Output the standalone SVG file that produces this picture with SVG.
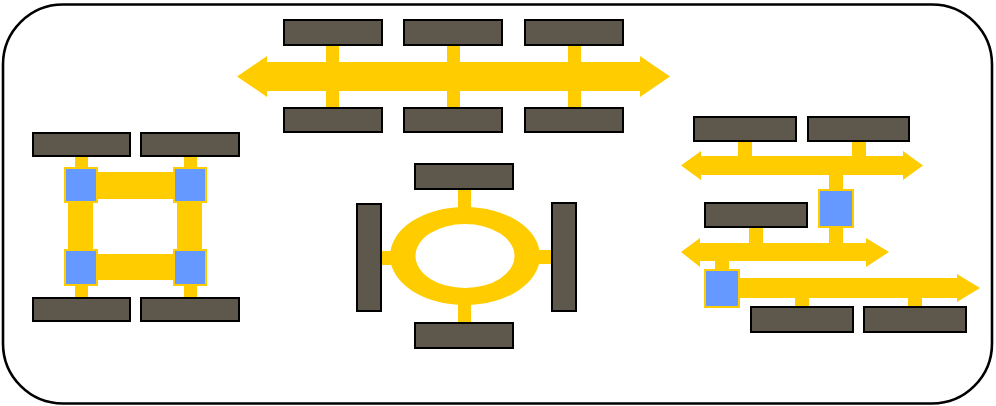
<svg xmlns="http://www.w3.org/2000/svg" width="996" height="406" viewBox="0 0 996 406">
<style>
.n{fill:#5e574b;stroke:#000;stroke-width:2}
.b{fill:#6699ff;stroke:#ffcc00;stroke-width:2}
.y{fill:#ffcc00;stroke:none}
</style>
<rect x="3" y="4.5" width="989" height="399" rx="60" ry="60" fill="#fff" stroke="#000" stroke-width="2.6"/>
<g id="connectors">
  <path class="y" d="M237,76.5 L267,56 L267,62 L640,62 L640,56 L670,76.5 L640,97 L640,91 L267,91 L267,97 Z"/>
  <rect class="y" x="326" y="44" width="13" height="64"/>
  <rect class="y" x="447" y="44" width="13" height="64"/>
  <rect class="y" x="568" y="44" width="13" height="64"/>
  <rect class="y" x="75" y="155" width="13" height="15"/>
  <rect class="y" x="184" y="155" width="13" height="15"/>
  <rect class="y" x="75" y="284" width="13" height="15"/>
  <rect class="y" x="184" y="284" width="13" height="15"/>
  <rect class="y" x="90" y="172" width="90" height="27"/>
  <rect class="y" x="90" y="254" width="90" height="26"/>
  <rect class="y" x="68" y="190" width="25" height="70"/>
  <rect class="y" x="177" y="190" width="25" height="70"/>
  <path class="y" fill-rule="evenodd" d="M390,256 A75,49 0 1 0 540,256 A75,49 0 1 0 390,256 Z M415.5,256 A49.5,32 0 1 0 514.5,256 A49.5,32 0 1 0 415.5,256 Z"/>
  <rect class="y" x="458" y="188" width="13" height="22"/>
  <rect class="y" x="458" y="302" width="13" height="22"/>
  <rect class="y" x="380" y="251" width="14" height="14"/>
  <rect class="y" x="536" y="250" width="16" height="14"/>
  <path class="y" d="M681,165.5 L701,151 L701,156 L903,156 L903,151 L923,165.5 L903,180 L903,175 L701,175 L701,180 Z"/>
  <path class="y" d="M681,252 L700,238 L700,243 L866,243 L866,238 L889,252 L866,267 L866,261 L700,261 L700,267 Z"/>
  <path class="y" d="M730,278 L957,278 L957,274 L980,288 L957,302 L957,298 L730,298 Z"/>
  <rect class="y" x="738" y="140" width="14" height="17"/>
  <rect class="y" x="852" y="140" width="14" height="17"/>
  <rect class="y" x="829" y="174" width="14" height="17"/>
  <rect class="y" x="829" y="226" width="14" height="18"/>
  <rect class="y" x="749" y="226" width="14" height="18"/>
  <rect class="y" x="715" y="260" width="14" height="11"/>
  <rect class="y" x="795" y="296" width="14" height="12"/>
  <rect class="y" x="908" y="296" width="14" height="12"/>
</g>
<g id="top-t1"><rect class="n" x="284" y="20" width="98" height="25"/></g>
<g id="top-t2"><rect class="n" x="404" y="20" width="98" height="25"/></g>
<g id="top-t3"><rect class="n" x="525" y="20" width="98" height="25"/></g>
<g id="top-b1"><rect class="n" x="284" y="108" width="98" height="24"/></g>
<g id="top-b2"><rect class="n" x="404" y="108" width="98" height="24"/></g>
<g id="top-b3"><rect class="n" x="525" y="108" width="98" height="24"/></g>
<g id="left-t1"><rect class="n" x="33" y="133" width="97" height="23"/></g>
<g id="left-t2"><rect class="n" x="141" y="133" width="98" height="23"/></g>
<g id="left-b1"><rect class="n" x="33" y="298" width="97" height="23"/></g>
<g id="left-b2"><rect class="n" x="141" y="298" width="98" height="23"/></g>
<g id="left-sw1"><rect class="b" x="65" y="168" width="32" height="34"/></g>
<g id="left-sw2"><rect class="b" x="174" y="168" width="32" height="34"/></g>
<g id="left-sw3"><rect class="b" x="65" y="250" width="32" height="35"/></g>
<g id="left-sw4"><rect class="b" x="174" y="250" width="32" height="35"/></g>
<g id="mid-top"><rect class="n" x="415" y="164" width="98" height="25"/></g>
<g id="mid-bottom"><rect class="n" x="415" y="323" width="98" height="25"/></g>
<g id="mid-left"><rect class="n" x="357" y="204" width="24" height="107"/></g>
<g id="mid-right"><rect class="n" x="552" y="203" width="24" height="108"/></g>
<g id="right-t1"><rect class="n" x="694" y="117" width="102" height="24"/></g>
<g id="right-t2"><rect class="n" x="808" y="117" width="101" height="24"/></g>
<g id="right-m1"><rect class="n" x="705" y="203" width="102" height="24"/></g>
<g id="right-b1"><rect class="n" x="751" y="307" width="102" height="25"/></g>
<g id="right-b2"><rect class="n" x="864" y="307" width="102" height="25"/></g>
<g id="right-sw1"><rect class="b" x="819" y="190" width="34" height="37"/></g>
<g id="right-sw2"><rect class="b" x="705" y="270" width="34" height="37"/></g>
</svg>
